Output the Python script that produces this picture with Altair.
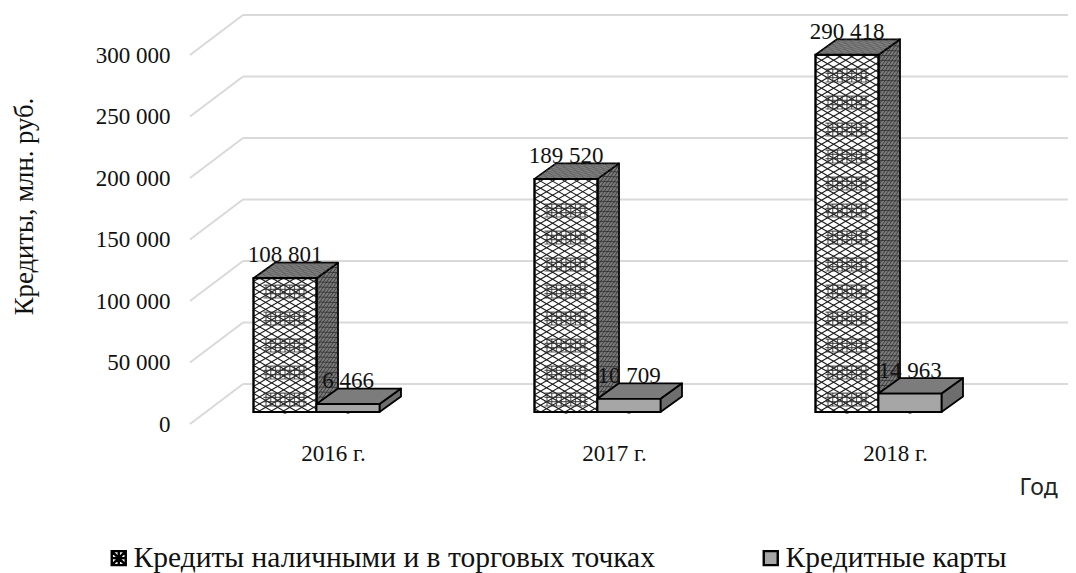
import altair as alt
import pandas as pd

years = [2016, 2017, 2018]
cash = [108801, 189520, 290418]
cards = [6466, 10709, 14963]
grid_values = [0, 50000, 100000, 150000, 200000, 250000, 300000]
series_names = ["Кредиты наличными и в торговых точках", "Кредитные карты"]

SERIF = "Liberation Serif"
PX_X = 281.0                # pixels per year
PX_Y = 61.5 / 50000         # pixels per unit of value
BAR = 63.0
DX, DY = 21.5, 15.5         # bar depth in pixels
W, H = 878, 420
X_MIN = 2016 - 126.5 / PX_X
X_MAX = 2016 + (1068 - 316.5) / PX_X
Y_MIN = -18 / PX_Y
Y_MAX = 402 / PX_Y

x_scale = alt.Scale(domain=[X_MIN, X_MAX], nice=False, zero=False)
y_scale = alt.Scale(domain=[Y_MIN, Y_MAX], nice=False, zero=False)
x_axis = alt.Axis(values=years, title="Год", titleFont="Noto Sans", titleFontSize=23,
                  titleFontWeight="normal", titleColor="#222", titleX=848, titleY=57,
                  titleAlign="center", titleBaseline="middle",
                  labelExpr="datum.value + ' г.'", labelFont=SERIF, labelFontSize=23,
                  labelColor="#111", labelOffset=16.5, labelPadding=12,
                  domain=False, ticks=False, grid=False, labelFlush=False, labelOverlap=False)
y_axis = alt.Axis(values=grid_values, title="Кредиты, млн. руб.", titleFont=SERIF,
                  titleFontSize=26.7, titleFontWeight="normal", titleColor="#111",
                  titleX=-166, titleY=196, titleAlign="center", titleBaseline="middle",
                  titleAngle=270,
                  labelExpr="replace(format(datum.value, ','), /,/g, ' ')",
                  labelFont=SERIF, labelFontSize=23, labelColor="#111",
                  labelOffset=12, labelPadding=20, domain=False, ticks=False,
                  grid=False, labelFlush=False, labelOverlap=False)


def ux(px):
    return px / PX_X


def uy(px):
    return px / PX_Y


def x_enc(field):
    return alt.X(f"{field}:Q", scale=x_scale, axis=x_axis)


def y_enc(field):
    return alt.Y(f"{field}:Q", scale=y_scale, axis=y_axis)


def clip_line(w, h, s, c):
    """Clip y = s*x + c to the box [0,w]x[0,h]; return the two end points or None."""
    t0, t1 = 0.0, w
    if s != 0:
        a, b = (0 - c) / s, (h - c) / s
        t0, t1 = max(t0, min(a, b)), min(t1, max(a, b))
    elif not 0 <= c <= h:
        return None
    if t1 <= t0:
        return None
    return (t0, s * t0 + c), (t1, s * t1 + c)


def lattice(w, h, slope, step):
    segs = []
    span = abs(slope) * w + h
    c = -span
    while c < span + h:
        for s in (slope, -slope):
            seg = clip_line(w, h, s, c)
            if seg:
                segs.append(seg)
        c += step
    return segs


def rows_from_segments(segs, mapper):
    rows = []
    for (a0, b0), (a1, b1) in segs:
        x, y = mapper(a0, b0)
        x2, y2 = mapper(a1, b1)
        rows.append({"x": x, "y": y, "x2": x2, "y2": y2})
    return rows


def rule_layer(rows, color, width, opacity=1.0):
    return alt.Chart(pd.DataFrame(rows)).mark_rule(
        color=color, strokeWidth=width, opacity=opacity
    ).encode(x=x_enc("x"), x2="x2:Q", y=y_enc("y"), y2="y2:Q")


def box_layers(frame, front, top, side):
    """Draw the side, top and front faces of the 3-D columns in `frame`."""
    side_rows, top_rows = [], []
    for i, r in frame.iterrows():
        side_rows += [
            {"g": i, "x": r.x1, "y": r.value, "y2": 0},
            {"g": i, "x": r.x1 + ux(DX), "y": r.value + uy(DY), "y2": uy(DY)},
        ]
        top_rows += [
            {"g": i, "y": r.value, "x": r.x0, "x2": r.x1},
            {"g": i, "y": r.value + uy(DY), "x": r.x0 + ux(DX), "x2": r.x1 + ux(DX)},
        ]
    s = alt.Chart(pd.DataFrame(side_rows)).mark_area(
        orient="vertical", fill=side, stroke="black", strokeWidth=1.8, strokeJoin="round"
    ).encode(x=x_enc("x"), y=y_enc("y"), y2="y2:Q", detail="g:N")
    t = alt.Chart(pd.DataFrame(top_rows)).mark_area(
        orient="horizontal", fill=top, stroke="black", strokeWidth=1.8, strokeJoin="round"
    ).encode(y=y_enc("y"), x=x_enc("x"), x2="x2:Q", detail="g:N")
    f = alt.Chart(frame).mark_bar(
        fill=front, stroke="black", strokeWidth=1.8
    ).encode(x=x_enc("x0"), x2="x1:Q", y=y_enc("value"), y2="base:Q")
    return s, t, f


# column tables -------------------------------------------------------------
rows = []
for yr, a, b in zip(years, cash, cards):
    rows.append({"year": yr, "series": series_names[0], "value": a, "base": 0,
                 "x0": yr - ux(BAR), "x1": float(yr)})
    rows.append({"year": yr, "series": series_names[1], "value": b, "base": 0,
                 "x0": float(yr), "x1": yr + ux(BAR)})
bars = pd.DataFrame(rows)
bars["xc"] = (bars.x0 + bars.x1) / 2
bars["label"] = bars.value.map(lambda v: f"{v:,}".replace(",", " "))
tall = bars[bars.series == series_names[0]].reset_index(drop=True)
small = bars[bars.series == series_names[1]].reset_index(drop=True)

# 3-D wall grid -------------------------------------------------------------
WALL_DX, WALL_DY, FLOOR = 53.0, 28.0, 12.0
wall = pd.DataFrame({
    "x": [X_MIN + ux(WALL_DX)] * len(grid_values),
    "x2": [X_MAX] * len(grid_values),
    "y": [v + uy(WALL_DY) for v in grid_values],
})
stub = pd.DataFrame({
    "x": [X_MIN] * len(grid_values),
    "x2": [X_MIN + ux(WALL_DX)] * len(grid_values),
    "y": [v - uy(FLOOR) for v in grid_values],
    "y2": [v + uy(WALL_DY) for v in grid_values],
})
GRID = "#d9d9d9"
wall_layer = alt.Chart(wall).mark_rule(color=GRID, strokeWidth=2).encode(
    x=x_enc("x"), x2="x2:Q", y=y_enc("y")
)
stub_layer = alt.Chart(stub).mark_rule(color=GRID, strokeWidth=2).encode(
    x=x_enc("x"), x2="x2:Q", y=y_enc("y"), y2="y2:Q"
)

# legend carrier (hidden behind the columns) --------------------------------
legend = alt.Legend(title=None, orient="none", legendX=-86, legendY=533, direction="horizontal",
                    columns=2, columnPadding=101, symbolSize=196, symbolStrokeWidth=2.4,
                    labelFont=SERIF, labelFontSize=29.5, labelColor="#111",
                    labelLimit=700, labelOffset=0)
legend_layer = alt.Chart(bars).mark_point(filled=True, size=1, opacity=1).encode(
    x=x_enc("xc"),
    y=y_enc("base"),
    fill=alt.Fill("series:N", scale=alt.Scale(domain=series_names, range=["#f2f2f2", "#a6a6a6"]),
                  legend=legend),
    stroke=alt.Stroke("series:N", scale=alt.Scale(domain=series_names, range=["#000000", "#000000"]),
                      legend=legend),
    shape=alt.Shape("series:N", scale=alt.Scale(
        domain=series_names,
        range=["M-1,-1H1V1H-1Z M-1,-1L1,1 M-1,1L1,-1 M0,-1L0,1 M-1,0L1,0", "M-1,-1H1V1H-1Z"]),
        legend=legend),
)

# hatch over the tall columns -----------------------------------------------
front_hatch, cluster, side_hatch, top_hatch = [], [], [], []
for _, r in tall.iterrows():
    h_px = r.value * PX_Y

    def m_front(a, b, x0=r.x0):
        return x0 + ux(a), uy(b)

    def m_side(a, b, x1=r.x1):
        return x1 + ux(a), uy(b + a * DY / DX)

    def m_top(a, b, x0=r.x0, v=r.value):
        return x0 + ux(a + b), v + uy(b * DY / DX)

    front_hatch += rows_from_segments(lattice(BAR, h_px, 0.58, 7.0), m_front)
    side_hatch += rows_from_segments(lattice(DX, h_px, 0.75, 5.0), m_side)
    top_hatch += rows_from_segments(lattice(BAR, DX, 0.55, 4.0), m_top)
    # periodic denser blocks of the woven pattern
    b0 = 6.0
    while b0 + 13 < h_px:
        for k in range(9):
            a = 12.5 + k * 4.75
            cluster.append({"x": r.x0 + ux(a), "x2": r.x0 + ux(a), "y": uy(b0), "y2": uy(b0 + 13)})
        for k in range(4):
            cluster.append({"x": r.x0 + ux(10), "x2": r.x0 + ux(53),
                            "y": uy(b0 + k * 4.3), "y2": uy(b0 + k * 4.3)})
        b0 += 27.0

tall_s, tall_t, tall_f = box_layers(tall, "#ffffff", "#858585", "#7a7a7a")
small_s, small_t, small_f = box_layers(small, "#a6a6a6", "#7c7c7c", "#6e6e6e")

tall_outline = alt.Chart(tall).mark_bar(
    fillOpacity=0, stroke="black", strokeWidth=2
).encode(x=x_enc("x0"), x2="x1:Q", y=y_enc("value"), y2="base:Q")

labels = alt.Chart(bars).mark_text(
    font=SERIF, fontSize=23, color="#111", baseline="alphabetic", align="center", dy=-16
).encode(x=x_enc("xc"), y=y_enc("value"), text="label:N")

chart = alt.layer(
    legend_layer, stub_layer, wall_layer,
    tall_s, rule_layer(side_hatch, "#2b2b2b", 1.0, 0.75),
    tall_t, rule_layer(top_hatch, "#4a4a4a", 0.8, 0.6),
    tall_f, rule_layer(front_hatch, "#1c1c1c", 1.1),
    rule_layer(cluster, "#333333", 1.2, 0.8), tall_outline,
    small_s, small_t, small_f,
    labels,
).resolve_scale(x="shared", y="shared").properties(
    width=W, height=H,
    padding={"left": 182, "top": 2, "right": 0, "bottom": 143},
    autosize=alt.AutoSizeParams(type="none"),
    background="white",
).configure_view(stroke=None)

chart.save("out.html", embed_options={"renderer": "svg", "actions": False})
